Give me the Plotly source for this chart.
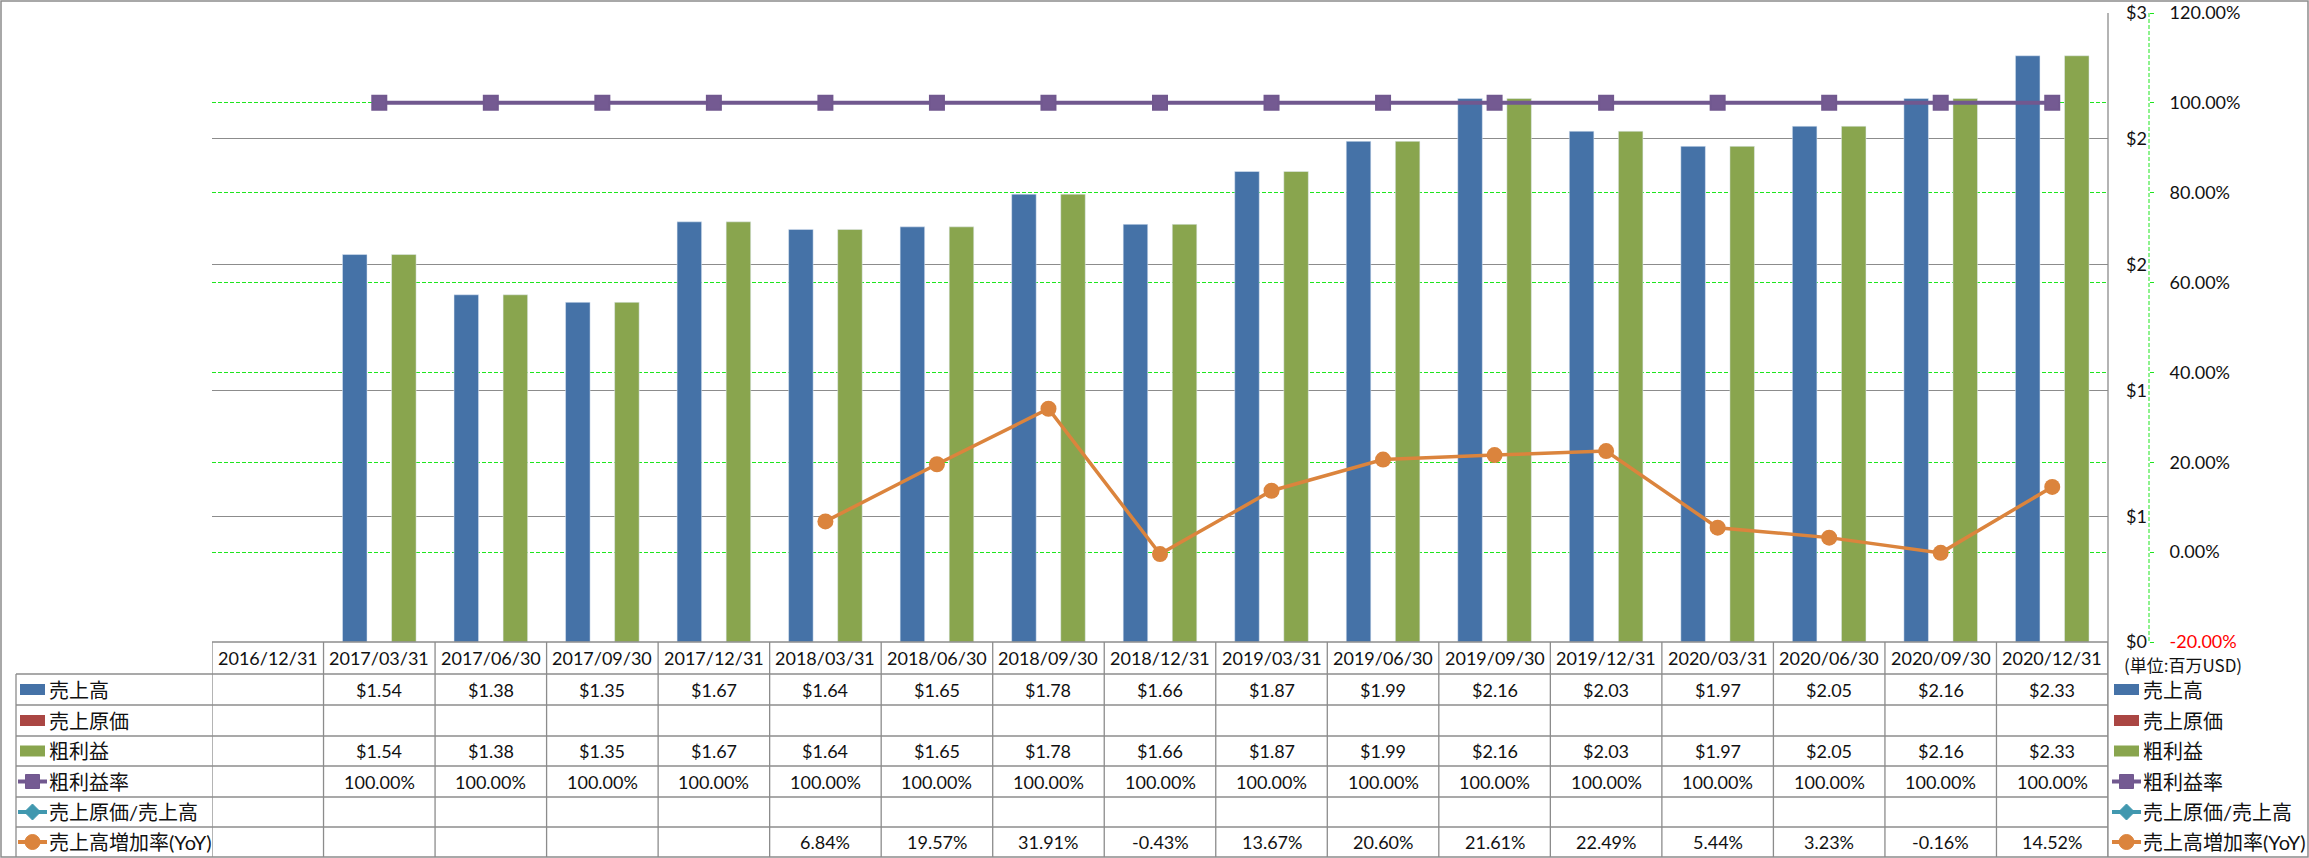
import plotly.graph_objects as go

W, H = 2309, 858

categories = ["2016/12/31", "2017/03/31", "2017/06/30", "2017/09/30", "2017/12/31",
              "2018/03/31", "2018/06/30", "2018/09/30", "2018/12/31", "2019/03/31",
              "2019/06/30", "2019/09/30", "2019/12/31", "2020/03/31", "2020/06/30",
              "2020/09/30", "2020/12/31"]
sales = [None, 1.54, 1.38, 1.35, 1.67, 1.64, 1.65, 1.78, 1.66, 1.87, 1.99, 2.16, 2.03, 1.97, 2.05, 2.16, 2.33]
cost_of_sales = [None] * 17
gross_profit = [None, 1.54, 1.38, 1.35, 1.67, 1.64, 1.65, 1.78, 1.66, 1.87, 1.99, 2.16, 2.03, 1.97, 2.05, 2.16, 2.33]
gross_margin = [None] + [100.0] * 16
cost_ratio = [None] * 17
yoy = [None, None, None, None, None, 6.84, 19.57, 31.91, -0.43, 13.67, 20.60, 21.61, 22.49, 5.44, 3.23, -0.16, 14.52]

usd_tickvals = [0, 0.5, 1.0, 1.5, 2.0, 2.5]
usd_ticktext = ["$0", "$1", "$1", "$2", "$2", "$3"]
pct_tickvals = [-20, 0, 20, 40, 60, 80, 100, 120]
pct_ticktext = ["<span style='color:#FF0000'>-20.00%</span>", "0.00%", "20.00%", "40.00%",
                "60.00%", "80.00%", "100.00%", "120.00%"]
unit_label = "(単位:百万USD)"

C_BLUE = "#4572A7"
C_RED = "#AA4643"
C_GREEN = "#89A54E"
C_PURPLE = "#71588F"
C_TEAL = "#4198AF"
C_ORANGE = "#DB843D"
GRID = "#8C8C8C"
LIME = "#1EE61E"

NUMFONT = "Lato, 'Noto Sans CJK JP', sans-serif"
JPFONT = "Lato, 'Noto Sans CJK JP', sans-serif"

def px(x):
    return x / W

def py(y):
    return 1 - y / H

# layout geometry (pixels)
PL, PR, PT, PB = 212, 2108, 13, 642
AXX = 2149
row_edges = [642, 674, 705, 736, 766, 797, 827, 857]

fig = go.Figure()

fig.add_trace(go.Bar(name="売上高", x=categories, y=sales, marker_color=C_BLUE, yaxis="y"))
fig.add_trace(go.Bar(name="売上原価", x=categories, y=cost_of_sales, marker_color=C_RED, yaxis="y"))
fig.add_trace(go.Bar(name="粗利益", x=categories, y=gross_profit, marker_color=C_GREEN, yaxis="y"))
fig.add_trace(go.Scatter(name="粗利益率", x=categories, y=gross_margin, yaxis="y2", mode="lines+markers",
                         line=dict(color=C_PURPLE, width=4),
                         marker=dict(symbol="square", size=14, color="#745A92",
                                     line=dict(color=C_PURPLE, width=2))))
fig.add_trace(go.Scatter(name="売上原価/売上高", x=categories, y=cost_ratio, yaxis="y2", mode="lines+markers",
                         line=dict(color=C_TEAL, width=4),
                         marker=dict(symbol="diamond", size=15, color=C_TEAL)))
fig.add_trace(go.Scatter(name="売上高増加率(YoY)", x=categories, y=yoy, yaxis="y2", mode="lines+markers",
                         line=dict(color=C_ORANGE, width=3.5),
                         marker=dict(symbol="circle", size=16, color=C_ORANGE)))

shapes = []
annotations = []

def hline(x0, x1, y, color=GRID, width=1.3, dash=None):
    shapes.append(dict(type="line", xref="paper", yref="paper", x0=px(x0), x1=px(x1), y0=py(y), y1=py(y),
                       line=dict(color=color, width=width, dash=dash)))

def vline(x, y0, y1, color=GRID, width=1.3, dash=None, xref="paper"):
    xv = px(x) if xref == "paper" else x
    shapes.append(dict(type="line", xref=xref, yref="paper", x0=xv, x1=xv, y0=py(y0), y1=py(y1),
                       line=dict(color=color, width=width, dash=dash)))

# outer border
shapes.append(dict(type="rect", xref="paper", yref="paper", x0=px(1), x1=px(W - 1), y0=py(H - 1), y1=py(1),
                   line=dict(color=GRID, width=1.5)))
# plot right border
vline(PR, PT, 857)
# dashed secondary axis line
vline(AXX, PT, PB, color=LIME, width=1, dash="4px,2px")

# table grid
hline(PL, PR, row_edges[0])
for ye in row_edges[1:-1]:
    hline(16, PR, ye)
vline(16, row_edges[1], 857)
for k in range(len(categories) + 1):
    vline(k - 0.5, row_edges[0], 857, xref="x")

row_centers = [(row_edges[i] + row_edges[i + 1]) / 2 for i in range(len(row_edges) - 1)]

# header
for c in categories:
    annotations.append(dict(x=c, xref="x", y=py(row_centers[0]), yref="paper", text=c, showarrow=False,
                            font=dict(family=NUMFONT, size=18, color="#111111"), xanchor="center", yanchor="middle"))

rows = [
    ("売上高", sales, lambda v: f"${v:.2f}", "bar", C_BLUE),
    ("売上原価", cost_of_sales, lambda v: f"${v:.2f}", "bar", C_RED),
    ("粗利益", gross_profit, lambda v: f"${v:.2f}", "bar", C_GREEN),
    ("粗利益率", gross_margin, lambda v: f"{v:.2f}%", "square", C_PURPLE),
    ("売上原価/売上高", cost_ratio, lambda v: f"{v:.2f}%", "diamond", C_TEAL),
    ("売上高増加率(YoY)", yoy, lambda v: f"{v:.2f}%", "circle", C_ORANGE),
]

def swatch(x0, yc, kind, color):
    if kind == "bar":
        shapes.append(dict(type="rect", xref="paper", yref="paper", x0=px(x0), x1=px(x0 + 25),
                           y0=py(yc + 5.5), y1=py(yc - 5.5), fillcolor=color, line=dict(width=0)))
    else:
        hline(x0 - 2, x0 + 27, yc, color=color, width=4)
        xc = x0 + 12.5
        if kind == "square":
            shapes.append(dict(type="rect", xref="paper", yref="paper", x0=px(xc - 7), x1=px(xc + 7),
                               y0=py(yc + 7), y1=py(yc - 7), fillcolor="#745A92", line=dict(color=color, width=1)))
        elif kind == "circle":
            shapes.append(dict(type="circle", xref="paper", yref="paper", x0=px(xc - 7.5), x1=px(xc + 7.5),
                               y0=py(yc + 7.5), y1=py(yc - 7.5), fillcolor=color, line=dict(color=color, width=1)))
        elif kind == "diamond":
            pts = [(xc, yc - 8), (xc + 8, yc), (xc, yc + 8), (xc - 8, yc)]
            path = "M " + " L ".join(f"{px(a):.6f},{py(b):.6f}" for a, b in pts) + " Z"
            shapes.append(dict(type="path", xref="paper", yref="paper", path=path, fillcolor=color,
                               line=dict(color=color, width=1)))

for r, (name, vals, fmt, kind, color) in enumerate(rows):
    yc = row_centers[r + 1]
    # left label column
    swatch(20, yc, kind, color)
    annotations.append(dict(x=px(47), xref="paper", y=py(yc), yref="paper", text=name, showarrow=False,
                            font=dict(family=JPFONT, size=20, color="#111111"), xanchor="left", yanchor="middle"))
    # right legend
    swatch(2114, yc, kind, color)
    annotations.append(dict(x=px(2141), xref="paper", y=py(yc), yref="paper", text=name, showarrow=False,
                            font=dict(family=JPFONT, size=20, color="#111111"), xanchor="left", yanchor="middle"))
    for c, v in zip(categories, vals):
        if v is None:
            continue
        annotations.append(dict(x=c, xref="x", y=py(yc), yref="paper", text=fmt(v), showarrow=False,
                                font=dict(family=NUMFONT, size=18, color="#111111"),
                                xanchor="center", yanchor="middle"))

annotations.append(dict(x=px(2122), xref="paper", y=py(664), yref="paper", text=unit_label, showarrow=False,
                        font=dict(family="'Noto Sans CJK JP', sans-serif", size=17, color="#111111"),
                        xanchor="left", yanchor="middle"))

fig.update_layout(
    width=W, height=H,
    autosize=False,
    margin=dict(l=0, r=0, t=0, b=0, pad=0),
    paper_bgcolor="white", plot_bgcolor="white",
    showlegend=False,
    barmode="group", bargap=0.34, bargroupgap=0,
    xaxis=dict(domain=[px(PL), px(PR)], type="category", range=[-0.5, len(categories) - 0.5],
               showticklabels=False, showgrid=False, zeroline=False, showline=False, ticks="",
               automargin=False),
    yaxis=dict(domain=[py(PB), py(PT)], range=[0, 2.5], anchor="free", position=px(AXX), side="left",
               tickvals=usd_tickvals, ticktext=usd_ticktext, showgrid=True, gridcolor=GRID, gridwidth=1.3,
               zeroline=False, showline=False, ticks="", ticklabelstandoff=2, automargin=False,
               tickfont=dict(family=NUMFONT, size=18, color="#111111")),
    yaxis2=dict(domain=[py(PB), py(PT)], range=[-20, 120], overlaying="y", anchor="free", position=px(AXX),
                side="right", tickvals=pct_tickvals, ticktext=pct_ticktext, showgrid=True, gridcolor=LIME,
                gridwidth=1, griddash="4px,2px", zeroline=False, showline=False, ticks="outside", ticklen=4,
                tickcolor=LIME, tickwidth=1, ticklabelstandoff=12, automargin=False,
                tickfont=dict(family=NUMFONT, size=18, color="#111111")),
    shapes=shapes,
    annotations=annotations,
)

fig.write_html("out.html", config={"displayModeBar": False})

# remove default page margins so the figure sits at the window origin
with open("out.html", "r", encoding="utf-8") as f:
    html = f.read()
html = html.replace("<head>", "<head><style>html,body{margin:0;padding:0;overflow:hidden;}</style>", 1)
with open("out.html", "w", encoding="utf-8") as f:
    f.write(html)
